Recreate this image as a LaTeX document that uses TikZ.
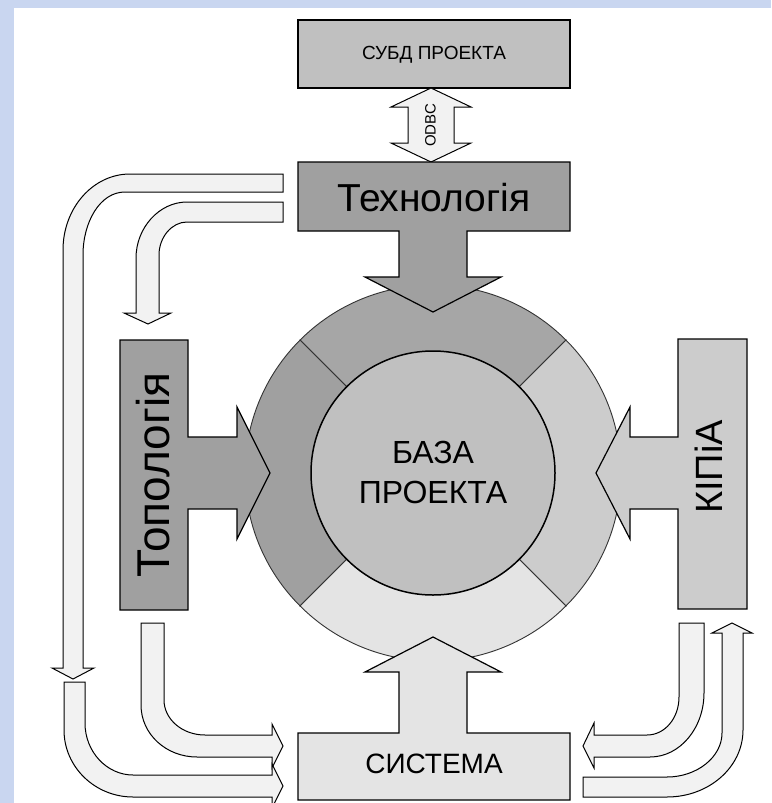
\documentclass[tikz,border=0pt]{standalone}
\usepackage{fontspec}
\setmainfont{Liberation Sans}
\definecolor{bgblue}{HTML}{C9D6F0}
\definecolor{topg}{HTML}{A6A6A6}
\definecolor{darkg}{HTML}{A0A0A0}
\definecolor{midg}{HTML}{C0C0C0}
\definecolor{lightg}{HTML}{CCCCCC}
\definecolor{paleg}{HTML}{E4E4E4}
\definecolor{bandg}{HTML}{F2F2F2}
\begin{document}
\begin{tikzpicture}[x=1pt,y=-1pt,
  blockshape/.style={draw=black,line width=1.2pt,line join=miter},
  band/.style={draw=black,line width=1pt,fill=bandg,line join=miter},
  sector/.style={draw=black!80,line width=0.9pt},
  lbl/.style={inner sep=0pt,text=black}]
\useasboundingbox (0,0) rectangle (771,803);
\clip (0,0) rectangle (771,803);
% background
\fill[bgblue] (0,0) rectangle (771,803);
\fill[white] (14,8) rectangle (771,803);

% ring of the project base
\coordinate (c) at (433,473);
\filldraw[sector,fill=topg]   (c) -- ++(225:188) arc[start angle=225,end angle=315,radius=188] -- cycle;
\filldraw[sector,fill=darkg]  (c) -- ++(135:188) arc[start angle=135,end angle=225,radius=188] -- cycle;
\filldraw[sector,fill=lightg] (c) -- ++(-45:188) arc[start angle=-45,end angle=45,radius=188] -- cycle;
\filldraw[sector,fill=paleg]  (c) -- ++(45:188) arc[start angle=45,end angle=135,radius=188] -- cycle;
\filldraw[draw=black,line width=1.5pt,fill=midg] (c) circle[radius=122];

% DBMS box and ODBC double arrow
\filldraw[blockshape,fill=midg] (298,20) rectangle (570,88);
\filldraw[band] (431,88) -- (471,107) -- (454,107) -- (454,143) -- (471,143) -- (431,162)
  -- (391,143) -- (408,143) -- (408,107) -- (391,107) -- cycle;

% Technology box with arrow
\filldraw[blockshape,fill=darkg] (298,162) -- (570,162) -- (570,231) -- (467,231) -- (467,277)
  -- (501,277) -- (433,312) -- (365,277) -- (399,277) -- (399,231) -- (298,231) -- cycle;
% Topology box with arrow
\filldraw[blockshape,fill=darkg] (120,340) -- (188,340) -- (188,437) -- (237,437) -- (237,407)
  -- (270,473) -- (237,539) -- (237,509) -- (188,509) -- (188,610) -- (120,610) -- cycle;
% KIPiA box with arrow
\filldraw[blockshape,fill=lightg] (747,339) -- (678,339) -- (678,437) -- (630,437) -- (630,407)
  -- (596,473) -- (630,539) -- (630,509) -- (678,509) -- (678,609) -- (747,609) -- cycle;
% System box with arrow
\filldraw[blockshape,fill=paleg] (298,800) -- (298,733) -- (399,733) -- (399,672) -- (365,672)
  -- (433,637) -- (501,672) -- (467,672) -- (467,733) -- (570,733) -- (570,800) -- cycle;

% band A: Technology -> down (outer)
\filldraw[band] (283,174) -- (130,174) .. controls (93,174) and (63,208) .. (63,250) -- (63,668)
  -- (52,668) -- (73,679) -- (94,668) -- (83,668) -- (83,255) .. controls (83,222) and (100,192) .. (125,192)
  -- (283,192) -- cycle;
% band B: Technology -> Topology
\filldraw[band] (283,202) -- (187,202) .. controls (159,202) and (136,228) .. (136,258) -- (136,313)
  -- (124,313) -- (148,324) -- (171,313) -- (159,313) -- (159,255) .. controls (159,237) and (172,222) .. (187,222)
  -- (283,222) -- cycle;
% band C: Topology -> System
\filldraw[band] (141,623) -- (164,623) -- (164,700) .. controls (164,719) and (182,735) .. (205,735)
  -- (272,735) -- (272,724) -- (283,746) -- (272,768) -- (272,757) -- (197,757)
  .. controls (166,757) and (141,734) .. (141,705) -- cycle;
% band D: outer -> System
\filldraw[band] (64,682) -- (85,682) -- (85,723) .. controls (85,752) and (107,775) .. (133,775)
  -- (272,775) -- (272,764) -- (283,786) -- (272,808) -- (272,797) -- (133,797)
  .. controls (95,797) and (64,767) .. (64,730) -- cycle;
% band E: KIPiA -> System
\filldraw[band] (679,623) -- (704,623) -- (704,693) .. controls (704,728) and (680,757) .. (650,757)
  -- (594,757) -- (594,768) -- (583,746) -- (594,723) -- (594,735) -- (647,735)
  .. controls (665,735) and (679,718) .. (679,697) -- cycle;
% band F: System -> KIPiA
\filldraw[band] (583,777) -- (667,777) .. controls (697,777) and (722,757) .. (722,733) -- (722,633)
  -- (712,633) -- (732,623) -- (752,633) -- (743,633) -- (743,730)
  .. controls (743,767) and (709,797) .. (667,797) -- (583,797) -- cycle;

% labels
\node[lbl,anchor=base,font=\fontsize{19}{19}\selectfont] (subd) at (434,59.5) {СУБД ПРОЕКТА};
\node[lbl,rotate=90,font=\fontsize{15}{15}\selectfont] (odbc) at (430.5,125) {ODBC};
\node[lbl,anchor=base,font=\fontsize{39}{39}\selectfont] (tech) at (434,211) {Технологія};
\node[lbl,anchor=base,font=\fontsize{32}{32}\selectfont] (baza1) at (433,463) {БАЗА};
\node[lbl,anchor=base,font=\fontsize{32}{32}\selectfont] (baza2) at (433,503) {ПРОЕКТА};
\node[lbl,rotate=90,font=\fontsize{46}{46}\selectfont] (topo) at (153,475) {Топологія};
\node[lbl,rotate=90,font=\fontsize{38}{38}\selectfont] (kipia) at (709,467) {КІПіА};
\node[lbl,anchor=base,font=\fontsize{28}{28}\selectfont] (sys) at (434,773) {СИСТЕМА};
\end{tikzpicture}
\end{document}
